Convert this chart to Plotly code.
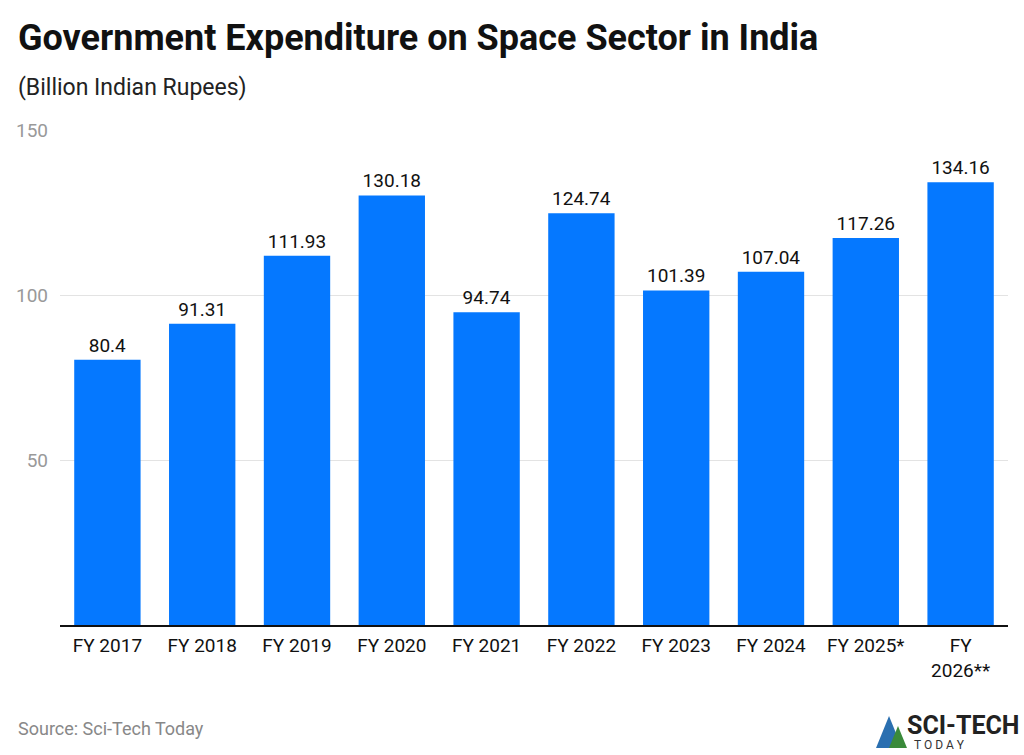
import plotly.graph_objects as go

categories = ["FY 2017", "FY 2018", "FY 2019", "FY 2020", "FY 2021", "FY 2022",
              "FY 2023", "FY 2024", "FY 2025*", "FY<br>2026**"]
values = [80.4, 91.31, 111.93, 130.18, 94.74, 124.74, 101.39, 107.04, 117.26, 134.16]
value_labels = ["80.4", "91.31", "111.93", "130.18", "94.74", "124.74", "101.39", "107.04", "117.26", "134.16"]
y_ticks = [50, 100, 150]

fig = go.Figure(go.Bar(
    x=categories, y=values,
    marker=dict(color="#0578FF", line=dict(width=0)),
    text=value_labels, textposition="outside",
    textfont=dict(family="Roboto", size=19, color="#111111"),
    cliponaxis=False,
))

W, H = 1024, 755
l, r, t, b = 60, 16, 130, 130
pw, ph = W - l - r, H - t - b

fig.update_layout(
    width=W, height=H,
    margin=dict(l=l, r=r, t=t, b=b),
    paper_bgcolor="white", plot_bgcolor="white",
    bargap=0.3,
    showlegend=False,
    font=dict(family="Roboto"),
    xaxis=dict(
        showline=True, linecolor="#111111", linewidth=2,
        tickfont=dict(family="Roboto", size=19, color="#111111"),
        ticks="", showgrid=False, ticklabelstandoff=2,
    ),
    yaxis=dict(
        range=[0, 150], tickvals=y_ticks,
        showgrid=True, gridcolor="#e3e3e3", gridwidth=1,
        tickfont=dict(family="Roboto", size=19, color="#999999"),
        ticks="", ticklabelstandoff=11, zeroline=False,
    ),
)

def px(xp):
    return (xp - l) / pw

def py(yp):
    return (H - b - yp) / ph

fig.add_annotation(text="<b>Government Expenditure on Space Sector in India</b>",
                   x=px(16), y=py(38), xref="paper", yref="paper", showarrow=False,
                   xanchor="left", yanchor="middle",
                   font=dict(family="Roboto", size=36, color="#111111"))
fig.add_annotation(text="(Billion Indian Rupees)",
                   x=px(16), y=py(88), xref="paper", yref="paper", showarrow=False,
                   xanchor="left", yanchor="middle",
                   font=dict(family="Roboto", size=23, color="#222222"))
fig.add_annotation(text="Source: Sci-Tech Today",
                   x=px(16), y=py(728), xref="paper", yref="paper", showarrow=False,
                   xanchor="left", yanchor="middle",
                   font=dict(family="Roboto", size=18, color="#888888"))
fig.add_annotation(text="<b>SCI-TECH</b>",
                   x=px(1021), y=py(725), xref="paper", yref="paper", showarrow=False,
                   xanchor="right", yanchor="middle",
                   font=dict(family="Roboto", size=25, color="#222222"))
fig.add_annotation(text="T O D A Y",
                   x=px(912), y=py(745), xref="paper", yref="paper", showarrow=False,
                   xanchor="left", yanchor="middle",
                   font=dict(family="Roboto", size=12, color="#333333"))
fig.add_shape(type="path", xref="paper", yref="paper",
              path=f"M {px(876)} {py(748)} L {px(889)} {py(716)} L {px(902)} {py(748)} Z",
              fillcolor="#2a6fb0", line=dict(width=0))
fig.add_shape(type="path", xref="paper", yref="paper",
              path=f"M {px(889)} {py(748)} L {px(898)} {py(726)} L {px(907)} {py(748)} Z",
              fillcolor="#3a8a3a", line=dict(width=0))

fig.write_html("out.html")
